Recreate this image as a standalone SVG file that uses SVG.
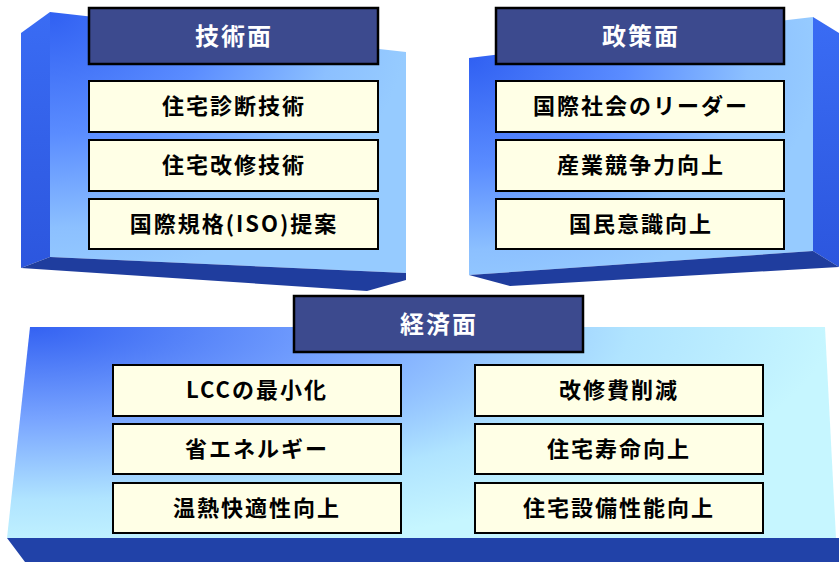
<svg xmlns="http://www.w3.org/2000/svg" width="839" height="562" viewBox="0 0 839 562">
<style>
.item{fill:#ffffe6;stroke:#000;stroke-width:2}
.title{fill:#3c4a8e;stroke:#000;stroke-width:2.5}
.t{font-family:"Noto Sans CJK JP","Noto Sans",sans-serif;font-weight:700;font-size:22px;letter-spacing:2px;text-anchor:middle;fill:#000}
.tt{font-family:"Noto Sans CJK JP","Noto Sans",sans-serif;font-weight:700;font-size:24px;letter-spacing:2px;text-anchor:middle;fill:#fff}
.bottomface{fill:#1f3d9e}
</style>
<defs>
<radialGradient id="gL" gradientUnits="userSpaceOnUse" cx="0" cy="0" r="1" gradientTransform="translate(50 12) scale(360 270)">
<stop offset="0" stop-color="#3060f2"/>
<stop offset="0.45" stop-color="#5a8cff"/>
<stop offset="0.8" stop-color="#8cc0ff"/>
<stop offset="1" stop-color="#96cbff"/>
</radialGradient>
<radialGradient id="gR" gradientUnits="userSpaceOnUse" cx="0" cy="0" r="1" gradientTransform="translate(469 58) scale(350 240)">
<stop offset="0" stop-color="#3060f2"/>
<stop offset="0.45" stop-color="#5a8cff"/>
<stop offset="0.8" stop-color="#8cc0ff"/>
<stop offset="1" stop-color="#96cbff"/>
</radialGradient>
<radialGradient id="gB" gradientUnits="userSpaceOnUse" cx="0" cy="0" r="1" gradientTransform="translate(30 327) scale(800 230)">
<stop offset="0" stop-color="#3462f2"/>
<stop offset="0.4" stop-color="#78a4ff"/>
<stop offset="0.75" stop-color="#b0e4ff"/>
<stop offset="1" stop-color="#c6f6ff"/>
</radialGradient>
<linearGradient id="gSide" x1="0" y1="0" x2="0" y2="1">
<stop offset="0" stop-color="#3a6cf4"/>
<stop offset="1" stop-color="#2c56de"/>
</linearGradient>
</defs>

<g id="panel-technical">
<polygon points="21,33 50,12 50,257 21,268" fill="url(#gSide)"/>
<polygon points="50,12 406,52 406,273 50,257" fill="url(#gL)"/>
<polygon class="bottomface" points="21,268 50,257 406,273 406,280 367,291"/>
</g>
<g id="panel-policy">
<polygon points="813,17 839,33 839,267 813,251" fill="url(#gSide)"/>
<polygon points="469,58 813,17 813,251 469,275" fill="url(#gR)"/>
<polygon class="bottomface" points="469,275 813,251 839,267 510,286"/>
</g>
<g id="panel-economic">
<polygon points="30,327 825,327 836,538 7,538" fill="url(#gB)"/>
<polygon points="7,538 839,538 839,562 25,562" fill="#2142a8"/>
</g>

<g id="title-technical"><rect class="title" x="89" y="8" width="289" height="56"/><text class="tt" x="234" y="45">技術面</text></g>
<g id="tech-1"><rect class="item" x="89" y="81" width="289" height="51"/><text class="t" x="234" y="114">住宅診断技術</text></g>
<g id="tech-2"><rect class="item" x="89" y="140" width="289" height="51"/><text class="t" x="234" y="173">住宅改修技術</text></g>
<g id="tech-3"><rect class="item" x="89" y="199" width="289" height="50"/><text class="t" x="234" y="232">国際規格(ISO)提案</text></g>

<g id="title-policy"><rect class="title" x="496" y="8" width="288" height="56"/><text class="tt" x="641" y="45">政策面</text></g>
<g id="policy-1"><rect class="item" x="496" y="81" width="288" height="51"/><text class="t" x="641" y="114">国際社会のリーダー</text></g>
<g id="policy-2"><rect class="item" x="496" y="140" width="288" height="51"/><text class="t" x="641" y="173">産業競争力向上</text></g>
<g id="policy-3"><rect class="item" x="496" y="199" width="288" height="50"/><text class="t" x="641" y="232">国民意識向上</text></g>

<g id="title-economic"><rect class="title" x="294" y="296" width="289" height="56"/><text class="tt" x="439" y="333">経済面</text></g>
<g id="econ-1"><rect class="item" x="113" y="365" width="288" height="51"/><text class="t" x="257" y="398">LCCの最小化</text></g>
<g id="econ-2"><rect class="item" x="113" y="424" width="288" height="50"/><text class="t" x="257" y="457">省エネルギー</text></g>
<g id="econ-3"><rect class="item" x="113" y="483" width="288" height="50"/><text class="t" x="257" y="516">温熱快適性向上</text></g>
<g id="econ-4"><rect class="item" x="475" y="365" width="288" height="51"/><text class="t" x="619" y="398">改修費削減</text></g>
<g id="econ-5"><rect class="item" x="475" y="424" width="288" height="50"/><text class="t" x="619" y="457">住宅寿命向上</text></g>
<g id="econ-6"><rect class="item" x="475" y="483" width="288" height="50"/><text class="t" x="619" y="516">住宅設備性能向上</text></g>
</svg>
